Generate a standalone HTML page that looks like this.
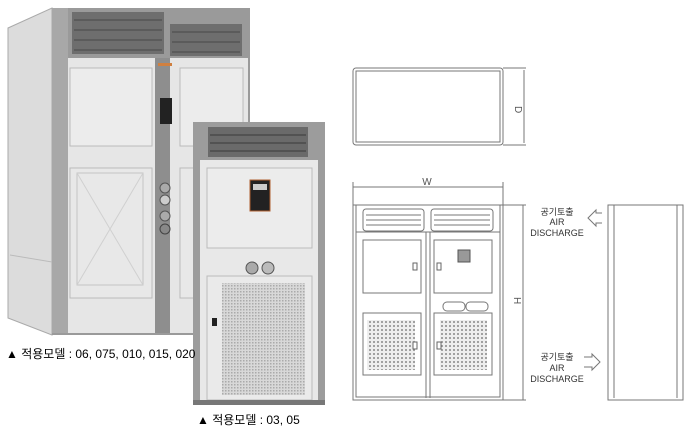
<!DOCTYPE html>
<html><head><meta charset="utf-8"><style>
html,body{margin:0;padding:0;background:#fff;}
svg{display:block}
text{font-family:"Liberation Sans","Noto Sans CJK KR",sans-serif;}
</style></head><body>
<svg width="693" height="436" viewBox="0 0 693 436" xmlns="http://www.w3.org/2000/svg">
<defs>
<pattern id="mesh" width="4" height="4" patternUnits="userSpaceOnUse"><rect width="4" height="4" fill="#eee"/><circle cx="2" cy="2" r="1" fill="#888"/></pattern>
<pattern id="mesh2" width="3" height="3" patternUnits="userSpaceOnUse"><rect width="3" height="3" fill="#d8d8d8"/><rect width="1.5" height="1.5" fill="#aaa"/></pattern>
</defs>
<!-- Large unit -->
<polygon points="8,28 52,8 52,335 8,318" fill="#dcdcdc" stroke="#aaa"/>
<line x1="10" y1="255" x2="52" y2="262" stroke="#bbb"/>
<rect x="52" y="8" width="198" height="327" fill="#9a9a9a"/>
<rect x="68" y="58" width="180" height="275" fill="#e6e6e6"/>
<rect x="52" y="8" width="16" height="325" fill="#a8a8a8"/>
<rect x="72" y="12" width="92" height="42" fill="#6e6e6e"/>
<rect x="170" y="24" width="72" height="32" fill="#6e6e6e"/>
<g stroke="#555" stroke-width="1.5">
<line x1="74" y1="20" x2="162" y2="20"/><line x1="74" y1="30" x2="162" y2="30"/><line x1="74" y1="40" x2="162" y2="40"/><line x1="74" y1="50" x2="162" y2="50"/>
<line x1="172" y1="32" x2="240" y2="32"/><line x1="172" y1="42" x2="240" y2="42"/><line x1="172" y1="52" x2="240" y2="52"/>
</g>
<rect x="155" y="58" width="15" height="275" fill="#8e8e8e"/>
<rect x="70" y="68" width="82" height="78" fill="#ececec" stroke="#bbb"/>
<rect x="70" y="168" width="82" height="130" fill="#e8e8e8" stroke="#bbb"/>
<rect x="77" y="173" width="66" height="112" fill="none" stroke="#c4c4c4"/>
<path d="M77,173 L143,285 M143,173 L77,285" stroke="#d0d0d0"/>
<rect x="180" y="68" width="63" height="78" fill="#ececec" stroke="#bbb"/>
<rect x="180" y="168" width="63" height="130" fill="#e8e8e8" stroke="#bbb"/>
<rect x="160" y="98" width="12" height="26" fill="#222"/>
<rect x="158" y="63" width="14" height="3" fill="#d08040"/>
<circle cx="165" cy="188" r="5" fill="#aaa" stroke="#555"/><circle cx="165" cy="200" r="5" fill="#ccc" stroke="#555"/>
<circle cx="165" cy="216" r="5" fill="#aaa" stroke="#555"/><circle cx="165" cy="229" r="5" fill="#888" stroke="#444"/>
<!-- Small unit -->
<rect x="193" y="122" width="132" height="283" fill="#9c9c9c"/>
<rect x="200" y="160" width="118" height="243" fill="#e8e8e8"/>
<rect x="208" y="127" width="100" height="30" fill="#6a6a6a"/>
<g stroke="#4a4a4a" stroke-width="1.5"><line x1="210" y1="135" x2="306" y2="135"/><line x1="210" y1="143" x2="306" y2="143"/><line x1="210" y1="151" x2="306" y2="151"/></g>
<rect x="207" y="168" width="105" height="80" fill="#ececec" stroke="#bbb"/>
<rect x="250" y="180" width="20" height="31" fill="#222" stroke="#b06030"/>
<rect x="253" y="184" width="14" height="6" fill="#ccc"/>
<circle cx="252" cy="268" r="6" fill="#aaa" stroke="#555"/><circle cx="268" cy="268" r="6" fill="#bbb" stroke="#555"/>
<rect x="207" y="276" width="105" height="124" fill="#eaeaea" stroke="#bbb"/>
<rect x="222" y="283" width="83" height="112" fill="url(#mesh2)"/>
<rect x="212" y="318" width="5" height="8" fill="#222"/>
<rect x="193" y="400" width="132" height="5" fill="#777"/>
<text x="6" y="358" font-size="12">▲ 적용모델 : 06, 075, 010, 015, 020</text>
<text x="197" y="424" font-size="12">▲ 적용모델 : 03, 05</text>
<!-- Top view -->
<g fill="none" stroke="#777">
<rect x="353" y="68" width="150" height="77" rx="3"/>
<rect x="356" y="71" width="144" height="71"/>
<line x1="503" y1="68" x2="526" y2="68"/><line x1="503" y1="145" x2="526" y2="145"/>
<line x1="524" y1="70" x2="524" y2="143"/>
</g>
<text x="0" y="0" font-size="10" fill="#555" transform="translate(515,106) rotate(90)">D</text>
<!-- Front view -->
<g fill="none" stroke="#777">
<line x1="353" y1="187" x2="503" y2="187"/><line x1="353" y1="182" x2="353" y2="205"/><line x1="503" y1="182" x2="503" y2="205"/>
<rect x="353" y="205" width="150" height="195"/>
<rect x="356" y="205" width="144" height="192"/>
<rect x="363" y="209" width="61" height="22" rx="3"/><rect x="431" y="209" width="62" height="22" rx="3"/>
<line x1="366" y1="215" x2="421" y2="215"/><line x1="366" y1="220" x2="421" y2="220"/><line x1="366" y1="225" x2="421" y2="225"/>
<line x1="434" y1="215" x2="490" y2="215"/><line x1="434" y1="220" x2="490" y2="220"/><line x1="434" y1="225" x2="490" y2="225"/>
<line x1="356" y1="232" x2="500" y2="232"/>
<line x1="426" y1="232" x2="426" y2="398"/><line x1="430" y1="232" x2="430" y2="398"/>
<rect x="363" y="240" width="58" height="53"/><rect x="434" y="240" width="58" height="53"/>
<rect x="443" y="302" width="22" height="9" rx="4"/><rect x="466" y="302" width="22" height="9" rx="4"/>
<rect x="363" y="313" width="58" height="62"/><rect x="434" y="313" width="58" height="62"/>
<line x1="523" y1="205" x2="523" y2="400"/><line x1="503" y1="205" x2="526" y2="205"/><line x1="503" y1="400" x2="526" y2="400"/>
<rect x="608" y="205" width="75" height="195"/>
<line x1="614" y1="205" x2="614" y2="398"/><line x1="677" y1="205" x2="677" y2="398"/>
<path d="M602,213 L596,213 L596,210 L588,218 L596,226 L596,223 L602,223" />
<path d="M584,357 L592,357 L592,354 L600,362 L592,370 L592,367 L584,367" />
</g>
<rect x="367" y="320" width="48" height="50" fill="url(#mesh)"/>
<rect x="440" y="320" width="47" height="50" fill="url(#mesh)"/>
<rect x="458" y="250" width="12" height="12" fill="#999" stroke="#555"/>
<g fill="#fff" stroke="#666"><rect x="413" y="263" width="4" height="7"/><rect x="437" y="263" width="4" height="7"/><rect x="413" y="342" width="4" height="7"/><rect x="437" y="342" width="4" height="7"/></g>
<text x="427" y="185" font-size="10" fill="#555" text-anchor="middle">W</text>
<text x="0" y="0" font-size="10" fill="#555" transform="translate(514,297) rotate(90)">H</text>
<g font-size="9" fill="#333" text-anchor="middle">
<text x="557" y="215">공기토출</text><text x="557" y="225">AIR</text><text x="557" y="236">DISCHARGE</text>
<text x="557" y="360">공기토출</text><text x="557" y="371">AIR</text><text x="557" y="382">DISCHARGE</text>
</g>
</svg>
</body></html>
